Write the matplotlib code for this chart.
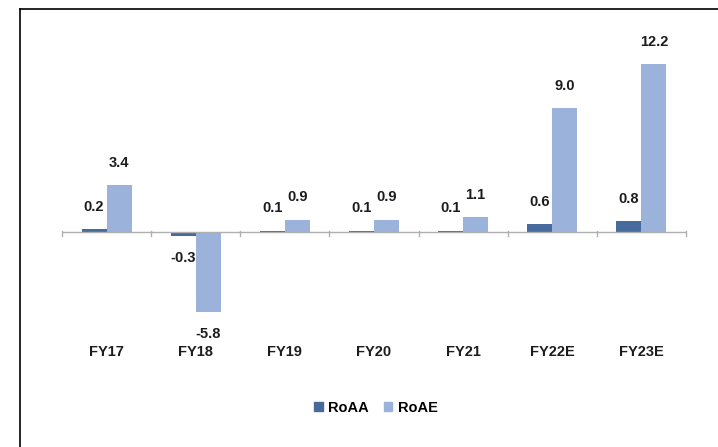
import matplotlib
matplotlib.use("Agg")
import matplotlib.pyplot as plt
import matplotlib.transforms as mtransforms
from matplotlib.patches import Patch
from matplotlib.lines import Line2D
import numpy as np

categories = ["FY17", "FY18", "FY19", "FY20", "FY21", "FY22E", "FY23E"]
roaa = [0.2, -0.3, 0.1, 0.1, 0.1, 0.6, 0.8]
roae = [3.4, -5.8, 0.9, 0.9, 1.1, 9.0, 12.2]
series_names = ["RoAA", "RoAE"]

DARK = "#466a9c"
LIGHT = "#9bb2db"
TEXT = "#1c1c1c"
FONT = ["Liberation Sans Narrow", "Liberation Sans", "DejaVu Sans"]
plt.rcParams["font.family"] = FONT

W, H = 718, 447
fig = plt.figure(figsize=(W / 100, H / 100), dpi=100)

# outer frame: top and left edges
fig.add_artist(Line2D([20 / W, 1], [1 - 9 / H, 1 - 9 / H], color="black", lw=1.2))
fig.add_artist(Line2D([20 / W, 20 / W], [0, 1 - 9 / H], color="black", lw=1.2))

# axes in pixel coordinates
ax_l, ax_r, ax_t, ax_b = 62, 686, 40, 330
ax = fig.add_axes([ax_l / W, 1 - ax_b / H, (ax_r - ax_l) / W, (ax_b - ax_t) / H])
zero_y = 232
scale = 13.75
ax.set_ylim(-(ax_b - zero_y) / scale, (zero_y - ax_t) / scale)
n = len(categories)
ax.set_xlim(-0.5, n - 0.5)

x = np.arange(n)
bw = 0.28
ax.bar(x - bw / 2, roaa, bw, color=DARK, label=series_names[0], zorder=2)
ax.bar(x + bw / 2, roae, bw, color=LIGHT, label=series_names[1], zorder=2)

for vals, off in ((roaa, -bw / 2), (roae, bw / 2)):
    for xi, v in zip(x, vals):
        dy = 16 if v >= 0 else -16
        ax.annotate(f"{v:.1f}", (xi + off, v), xytext=(0, dy), textcoords="offset points",
                    ha="center", va="center", fontsize=10.5, fontweight="bold", color=TEXT)

for s in ax.spines.values():
    s.set_visible(False)
ax.set_yticks([])
ax.set_xticks([])
ax.axhline(0, color="#b0b0b0", lw=1.0, zorder=3)
# boundary tick marks hanging below the zero line
for b in np.arange(-0.5, n, 1.0):
    ax.plot([b, b], [0.1, -0.3], color="#b0b0b0", lw=1.0, zorder=3, clip_on=False)

trans = mtransforms.blended_transform_factory(ax.transData, fig.transFigure)
for xi, c in zip(x, categories):
    ax.text(xi, 1 - 352 / H, c, transform=trans, ha="center", va="center",
            fontsize=10.5, fontweight="bold", color=TEXT)

handles = [Patch(color=DARK), Patch(color=LIGHT)]
fig.legend(handles, series_names, loc="center", bbox_to_anchor=(376 / W, 1 - 408 / H),
           ncol=2, frameon=False, handlelength=0.6, handleheight=0.6, handletextpad=0.4,
           columnspacing=1.0, prop={"family": FONT, "weight": "bold", "size": 10.5})

fig.savefig("out.png", dpi=100)
